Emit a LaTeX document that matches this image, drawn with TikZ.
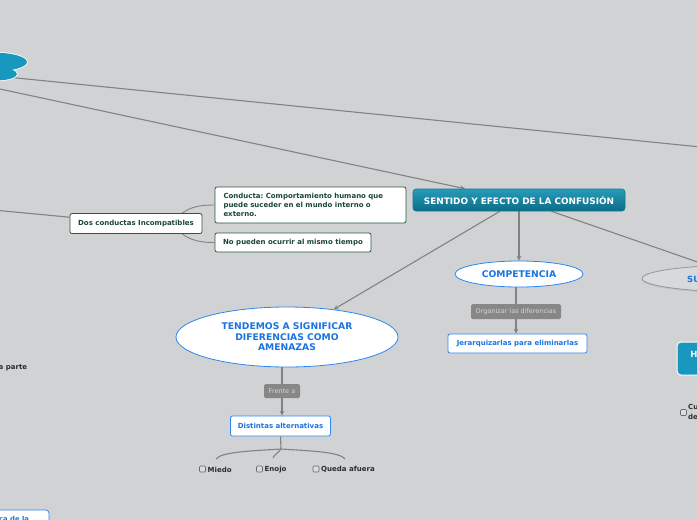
\documentclass[tikz,border=0pt]{standalone}
\usepackage{fontspec}
\setmainfont{DejaVu Sans}
\usetikzlibrary{shapes.geometric,arrows,shadows}
\pgfdeclarelayer{bg}
\pgfsetlayers{bg,main}

\definecolor{bgGray}{RGB}{209,210,212}
\definecolor{lineGray}{RGB}{130,130,130}
\definecolor{rootBlue}{RGB}{24,152,190}
\definecolor{sentTop}{RGB}{38,156,186}
\definecolor{sentBot}{RGB}{12,108,134}
\definecolor{sentEdge}{RGB}{20,120,150}
\definecolor{boxGreen}{RGB}{35,90,70}
\definecolor{textGreen}{RGB}{25,70,55}
\definecolor{edgeBlue}{RGB}{45,135,240}
\definecolor{textBlue}{RGB}{25,115,225}
\definecolor{tagGray}{RGB}{135,135,135}
\definecolor{tagText}{RGB}{215,215,215}
\definecolor{chkEdge}{RGB}{105,105,105}
\definecolor{chkFill}{RGB}{220,220,222}
\definecolor{itemText}{RGB}{45,45,45}
\definecolor{suFill}{RGB}{216,217,219}
\definecolor{suEdge}{RGB}{150,150,150}

\begin{document}
\frenchspacing
\begin{tikzpicture}[x=1pt,y=-1pt,>=stealth,
  conn/.style={draw=lineGray, line width=1.1pt},
  greenbox/.style={draw=boxGreen, fill=white, line width=0.8pt, rounded corners=2pt, text=textGreen, font=\fontsize{7}{8.7}\selectfont\bfseries, inner sep=0pt},
  bluebox/.style={draw=edgeBlue, fill=white, line width=0.8pt, rounded corners=2pt, text=textBlue, font=\fontsize{7}{8}\selectfont\bfseries, inner sep=0pt},
  blueoval/.style={ellipse, draw=edgeBlue, fill=white, line width=0.8pt, text=textBlue, font=\fontsize{9.2}{10.5}\selectfont\bfseries, inner sep=0pt, align=center},
  tag/.style={fill=tagGray, rounded corners=1.5pt, text=tagText, font=\fontsize{6.5}{7.5}\selectfont, inner sep=0pt},
  chk/.style={draw=chkEdge, fill=chkFill, rounded corners=1pt, minimum size=6pt, inner sep=0pt, line width=0.6pt},
  item/.style={text=itemText, font=\fontsize{7}{8}\selectfont\bfseries, inner sep=0pt, anchor=west},
  tealbox/.style={draw=white, line width=1pt, rounded corners=4pt, fill=rootBlue, inner sep=0pt}]
\useasboundingbox (0,0) rectangle (697,520);
\clip (0,0) rectangle (697,520);
\begin{pgfonlayer}{bg}
\fill[bgGray] (0,0) rectangle (697,520);
\end{pgfonlayer}

% hubs that sit outside the visible part
\coordinate (root) at (-112,65);
\coordinate (leftHub) at (-70,204);
\coordinate (rightHub) at (780,155);

% root blob
\draw[white, line width=1.6pt] (-8,62) ellipse [x radius=35, y radius=9.5];
\draw[white, line width=1.6pt] (-4,74) ellipse [x radius=21, y radius=6.5];
\fill[rootBlue] (-8,62) ellipse [x radius=35, y radius=9.5];
\fill[rootBlue] (-4,74) ellipse [x radius=21, y radius=6.5];

% main branch
\node[draw=sentEdge, line width=0.6pt, rounded corners=3pt, top color=sentTop, bottom color=sentBot, text=white, font=\fontsize{8.9}{10}\selectfont\bfseries, minimum width=212pt, minimum height=22pt, inner sep=0pt] (sentido) at (519,200) {SENTIDO Y EFECTO DE LA CONFUSIÓN};

\node[greenbox, minimum width=132pt, minimum height=20pt] (dos) at (136,223.5) {Dos conductas Incompatibles};
\node[greenbox, text width=174pt, inner xsep=8.5pt, minimum height=36pt, align=left] (conducta) at (310.5,205) {Conducta: Comportamiento humano que\\puede suceder en el mundo interno o\\externo.};
\node[greenbox, minimum width=156pt, minimum height=19pt] (nopueden) at (293,242.5) {No pueden ocurrir al mismo tiempo};

\node[blueoval, minimum width=222pt, minimum height=60pt] (tendemos) at (287,337) {TENDEMOS A SIGNIFICAR\\DIFERENCIAS COMO\\AMENAZAS};
\node[tag, minimum width=36pt, minimum height=14pt] (frente) at (282,391) {Frente a};
\node[bluebox, minimum width=100pt, minimum height=20pt] (distintas) at (280.5,426) {Distintas alternativas};
\coordinate (fork) at (281,449);

\node[chk] (miedoBox) at (202.5,469) {};
\node[item] (miedo) at (207.5,469.5) {Miedo};
\node[chk] (enojoBox) at (259.5,469) {};
\node[item] (enojo) at (264.5,469.5) {Enojo};
\node[chk] (quedaBox) at (316,469) {};
\node[item] (queda) at (321,469.5) {Queda afuera};
\coordinate (miedoTip) at (216,459);
\coordinate (enojoTip) at (273,458);
\coordinate (quedaTip) at (345,459);

\node[blueoval, minimum width=128pt, minimum height=26pt] (competencia) at (519,274) {COMPETENCIA};
\node[tag, minimum width=90pt, minimum height=15pt] (organizar) at (516,311.5) {Organizar las diferencias};
\node[bluebox, minimum width=139pt, minimum height=19pt] (jerarq) at (517.5,343.5) {Jerarquizarlas para eliminarlas};

% cut off at the right edge
\node[ellipse, draw=suEdge, fill=suFill, line width=0.8pt, drop shadow={opacity=0.18, shadow xshift=0.5pt, shadow yshift=-1.5pt}, minimum width=206pt, minimum height=27pt, inner sep=0pt] (su) at (745,278.5) {};
\node[anchor=west, inner sep=0pt, text=textBlue, font=\fontsize{8.5}{10}\selectfont\bfseries] (suText) at (687,279.5) {SU};
\node[tealbox, minimum width=70pt, minimum height=33pt] (hbox) at (712,358.5) {};
\node[inner sep=0pt, text=white, font=\fontsize{8.5}{10}\selectfont\bfseries] (hText) at (694,354) {H};
\node[chk] (cuBox) at (683.5,412.5) {};
\node[item, align=left, font=\fontsize{7}{9.5}\selectfont\bfseries] (cu) at (688,412) {Cu\\de};

% cut off at the left edge
\node[item] (aparte) at (-1.5,368) {a parte};
\node[bluebox, minimum width=70pt, minimum height=26pt, rounded corners=3pt] (bl) at (14,523) {};
\node[anchor=west, inner sep=0pt, text=textBlue, font=\fontsize{6.8}{8}\selectfont\bfseries] (blText) at (-1,518.5) {ca de la};

\begin{pgfonlayer}{bg}
\draw[conn] (root) -- (rightHub);
\draw[conn,->] (root) -- (sentido.north -| 465,0);
\draw[conn] (leftHub) -- (dos);
\draw[conn, line width=0.9pt] ([xshift=-30pt]dos.east) .. controls (185,206) and (200,205) .. (conducta.west);
\draw[conn, line width=0.9pt] ([xshift=-30pt]dos.east) .. controls (185,241) and (200,242.5) .. (nopueden.west);
\draw[conn,->] (sentido) -- (tendemos);
\draw[conn,->] (sentido) -- (competencia);
\draw[conn] (sentido) -- (su);
\draw[conn] (tendemos.south -| frente) -- (frente);
\draw[conn,->] (frente) -- (frente |- distintas.north);
\draw[conn] (distintas.south) -- (fork);
\draw[conn] (fork) .. controls (250,451) and (221,452) .. (miedoTip);
\draw[conn] (fork) .. controls (279,452) and (274,455) .. (enojoTip);
\draw[conn] (fork) .. controls (312,451) and (340,452) .. (quedaTip);
\draw[conn] (competencia.south -| organizar) -- (organizar);
\draw[conn,->] (organizar) -- (organizar |- jerarq.north);
\end{pgfonlayer}
\end{tikzpicture}
\end{document}
